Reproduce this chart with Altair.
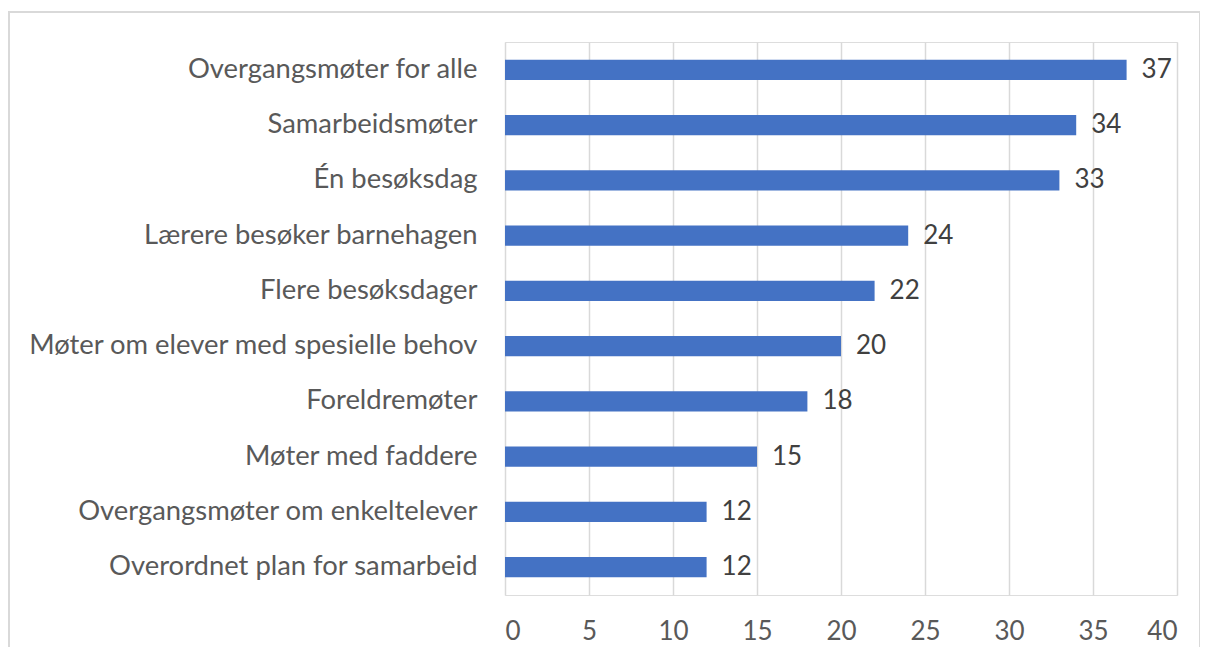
import altair as alt
import pandas as pd

categories = [
    "Overgangsmøter for alle",
    "Samarbeidsmøter",
    "Én besøksdag",
    "Lærere besøker barnehagen",
    "Flere besøksdager",
    "Møter om elever med spesielle behov",
    "Foreldremøter",
    "Møter med faddere",
    "Overgangsmøter om enkeltelever",
    "Overordnet plan for samarbeid",
]
values = [37, 34, 33, 24, 22, 20, 18, 15, 12, 12]
x_ticks = [0, 5, 10, 15, 20, 25, 30, 35, 40]

df = pd.DataFrame({"kategori": categories, "verdi": values})

FONT = "Lato"
W, H = 672, 553
FS = 26

base = alt.Chart(df).encode(
    y=alt.Y(
        "kategori:N",
        sort=categories,
        title=None,
        scale=alt.Scale(paddingInner=0.63, paddingOuter=0.32),
        axis=alt.Axis(
            ticks=False, domain=False, labelPadding=28, labelFontSize=27.4,
            labelColor="#595959", labelFont=FONT, labelLimit=600,
        ),
    ),
    x=alt.X(
        "verdi:Q",
        title=None,
        scale=alt.Scale(domain=[0, 40], nice=False),
        axis=alt.Axis(
            values=x_ticks, ticks=False, domain=False, grid=True,
            gridColor="#D9D9D9", gridWidth=1.5, labelPadding=23,
            labelFontSize=FS, labelColor="#595959", labelFont=FONT,
        ),
    ),
)

bars = base.mark_bar(color="#4472C4")
labels = base.mark_text(
    align="left", baseline="middle", dx=15, fontSize=FS, color="#404040", font=FONT
).encode(text="verdi:Q")

frame = alt.Chart(df).mark_rect(
    fill=None, stroke="#D9D9D9", strokeWidth=1.5
).encode(
    x=alt.value(-496), x2=alt.value(695), y=alt.value(-30), y2=alt.value(720)
)

chart = alt.layer(frame, bars, labels).properties(
    width=W, height=H,
    autosize=alt.AutoSizeParams(type="none"),
    padding={"left": 497, "top": 34, "right": 23, "bottom": 52},
).configure_view(stroke=None).configure(background="white")

chart.save("out.html", embed_options={"renderer": "svg", "actions": False})
